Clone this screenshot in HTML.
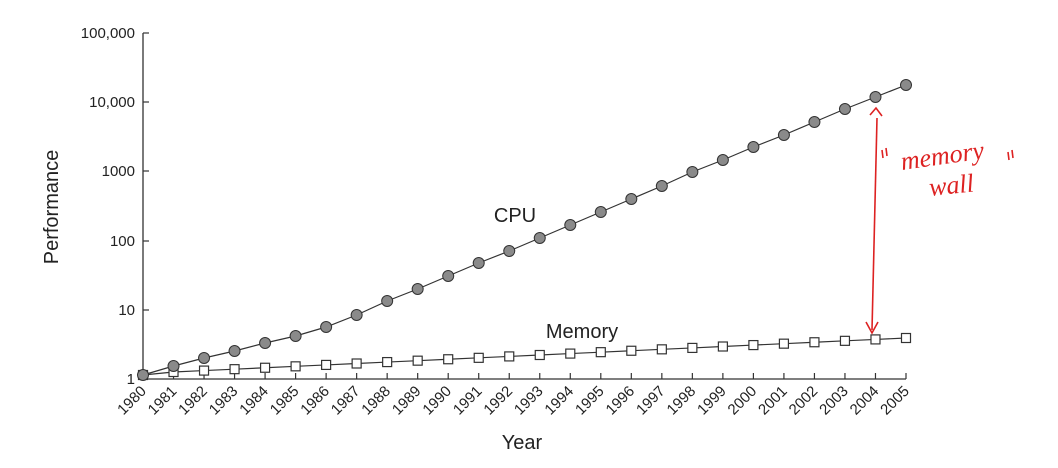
<!DOCTYPE html>
<html><head><style>
html,body{margin:0;padding:0;background:#fff;}
svg{display:block;font-family:"Liberation Sans",sans-serif;}
</style></head><body>
<svg id="s" width="1058" height="468" viewBox="0 0 1058 468">
<rect width="1058" height="468" fill="#fff"/>
<g stroke="#333" stroke-width="1.3" fill="none">
<line x1="143" y1="33" x2="143" y2="379"/>
<line x1="143" y1="379" x2="906" y2="379"/>
</g>
<g font-size="15" fill="#222" text-anchor="end">
<text x="135" y="38">100,000</text>
<text x="135" y="107">10,000</text>
<text x="135" y="176">1000</text>
<text x="135" y="246">100</text>
<text x="135" y="315">10</text>
<text x="135" y="384">1</text>
</g>
<g id="ticks" stroke="#333" stroke-width="1.2"></g>
<g id="xl" font-size="15" fill="#222" text-anchor="end"></g>
<g id="mem"></g>
<g id="cpu"></g>
<text x="515" y="222" font-size="20" text-anchor="middle" fill="#222">CPU</text>
<text x="582" y="338" font-size="20" text-anchor="middle" fill="#222">Memory</text>
<text x="522" y="449" font-size="20" text-anchor="middle" fill="#222">Year</text>
<text transform="translate(58,207) rotate(-90)" font-size="20" text-anchor="middle" fill="#222">Performance</text>
<g stroke="#d22" stroke-width="1.6" fill="none">
<path d="M877 118 L872 330"/>
<path d="M870 115 L876 108 L882 116"/>
<path d="M866 322 L872 333 L878 322"/>
<path d="M882 150 L883 158 M886 148 L887 156"/>
<path d="M1008 152 L1009 160 M1012 150 L1013 158"/>
</g>
<text x="902" y="170" font-family="'Liberation Serif',serif" font-style="italic" font-size="26" fill="#d22" transform="rotate(-8 902 170)">memory</text>
<text x="930" y="196" font-family="'Liberation Serif',serif" font-style="italic" font-size="26" fill="#d22" transform="rotate(-6 930 196)">wall</text>
</svg>
<script>
var ns="http://www.w3.org/2000/svg";
function el(p,t,a){var e=document.createElementNS(ns,t);for(var k in a)e.setAttribute(k,a[k]);p.appendChild(e);return e;}
var cy=[375,366,358,351,343,336,327,315,301,289,276,263,251,238,225,212,199,186,172,160,147,135,122,109,97,85];
var X=function(i){return 143+i*30.52;};
var tk=document.getElementById('ticks'),xl=document.getElementById('xl');
[33,102,171,241,310].forEach(function(y){el(tk,'line',{x1:143,y1:y,x2:149,y2:y});});
for(var i=0;i<26;i++){
 if(i>0)el(tk,'line',{x1:X(i),y1:379,x2:X(i),y2:373});
 var t=el(xl,'text',{x:X(i)+4,y:392,transform:'rotate(-45 '+(X(i)+4)+' 392)'});t.textContent=1980+i;
}
var m=document.getElementById('mem'),c=document.getElementById('cpu');
var mp=[],cp=[];
for(var i=0;i<26;i++){var my=i==0?375:372-(i-1)*34/24;mp.push(X(i)+','+my);cp.push(X(i)+','+cy[i]);}
el(m,'polyline',{points:mp.join(' '),fill:'none',stroke:'#333','stroke-width':1.2});
el(c,'polyline',{points:cp.join(' '),fill:'none',stroke:'#333','stroke-width':1.2});
for(var i=0;i<26;i++){var my=i==0?375:372-(i-1)*34/24;
 el(m,'rect',{x:X(i)-4.5,y:my-4.5,width:9,height:9,fill:'#fff',stroke:'#333','stroke-width':1.2});}
for(var i=0;i<26;i++){el(c,'circle',{cx:X(i),cy:cy[i],r:5.5,fill:'#8a8a8a',stroke:'#333','stroke-width':1});}
</script>
</body></html>
